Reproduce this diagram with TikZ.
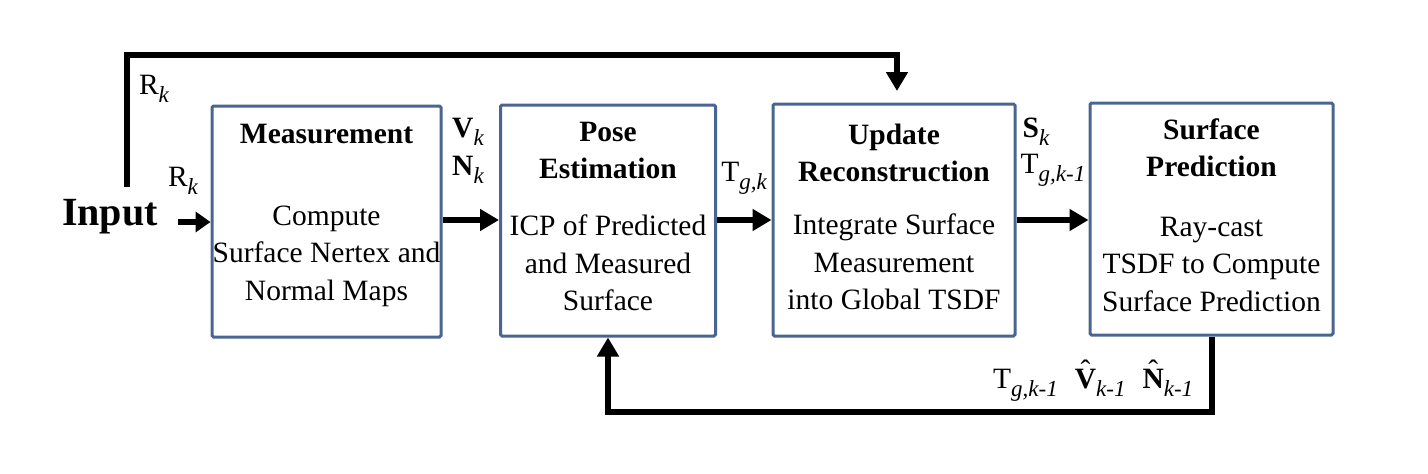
\documentclass[tikz,border=0pt]{standalone}
\usepackage{fontspec}
\setmainfont{Liberation Serif}
\usetikzlibrary{arrows.meta}
\definecolor{boxblue}{RGB}{74,101,145}
\newcommand\sbs[1]{\raisebox{-0.28em}{\fontsize{23}{23}\selectfont\itshape #1}}
\newcommand\hatb[1]{\setbox0\hbox{\bfseries #1}\rlap{\hbox to\wd0{\hss\raisebox{0.24em}{\char"02C6}\hss}}\box0}
\tikzset{
  blk/.style={draw=boxblue, line width=3pt, rounded corners=1.5pt, inner sep=0pt},
  ttl/.style={font=\fontsize{29.5}{37}\selectfont\bfseries, align=center, inner sep=0pt},
  bdy/.style={font=\fontsize{29.5}{37.5}\selectfont, align=center, inner sep=0pt},
  lbl/.style={font=\fontsize{29.5}{36}\selectfont, inner sep=0pt},
  arr/.style={line width=6pt, -{Triangle[length=19pt,width=21pt]}},
  arrs/.style={line width=6pt, -{Triangle[length=15pt,width=20pt]}},
}
\begin{document}
\begin{tikzpicture}[x=1pt,y=-1pt]
\useasboundingbox (0,0) rectangle (1428,474);
% boxes
\node[blk, minimum width=229pt, minimum height=231pt] (b1) at (326.5,221.5) {};
\node[blk, minimum width=215pt, minimum height=231pt] (b2) at (608,220.5) {};
\node[blk, minimum width=242pt, minimum height=232pt] (b3) at (894,220) {};
\node[blk, minimum width=243pt, minimum height=232pt] (b4) at (1211.5,219) {};
% titles
\node[ttl] (t1) at (326.5,134) {Measurement};
\node[ttl] (t2) at (608,150) {Pose\\Estimation};
\node[ttl] (t3) at (894,153) {Update\\Reconstruction};
\node[ttl] (t4) at (1211.5,148) {Surface\\Prediction};
% bodies
\node[bdy] (d1) at (326.5,256) {Compute\\Surface Nertex and\\Normal Maps};
\node[bdy] (d2) at (608,263) {ICP of Predicted\\and Measured\\Surface};
\node[bdy] (d3) at (894,262) {Integrate Surface\\Measurement\\into Global TSDF};
\node[bdy] (d4) at (1211.5,264) {Ray-cast\\TSDF to Compute\\Surface Prediction};
% input
\node[font=\fontsize{40}{40}\selectfont\bfseries, inner sep=0pt] (inp) at (110,217) {Input};
% labels
\node[lbl] (r1) at (154,89) {R\sbs{k}};
\node[lbl] (r2) at (183,181) {R\sbs{k}};
\node[lbl] (vk) at (468,132) {\textbf{V}\sbs{k}};
\node[lbl] (nk) at (468,170) {\textbf{N}\sbs{k}};
\node[lbl] (tgk) at (744,178) {T\sbs{g,k}};
\node[lbl] (sk) at (1036,132) {\textbf{S}\sbs{k}};
\node[lbl] (tgk1) at (1053,170) {T\sbs{g,k-1}};
\node[lbl, anchor=base west] (bot) at (993,388) {T\sbs{g,k-1}\hspace{17pt}\hatb{V}\sbs{k-1}\hspace{17pt}\hatb{N}\sbs{k-1}};
% connectors
\coordinate (inA) at (178,222);
\draw[arrs] (inA) -- (b1.west |- inA);
\draw[arr] (b1.east |- 0,220) -- (b2.west |- 0,220);
\draw[arr] (b2.east |- 0,220) -- (b3.west |- 0,220);
\draw[arr] (b3.east |- 0,220) -- (b4.west |- 0,220);
\coordinate (tA) at (127,187);
\coordinate (tC) at (897,55);
\coordinate (tE) at (897,91);
\draw[arr] (tA) |- (tC) -- (tE);
\coordinate (bl) at (608,412);
\draw[arr] (b4.south -| 1212,0) |- (bl) -- (b2.south);
\end{tikzpicture}
\end{document}
